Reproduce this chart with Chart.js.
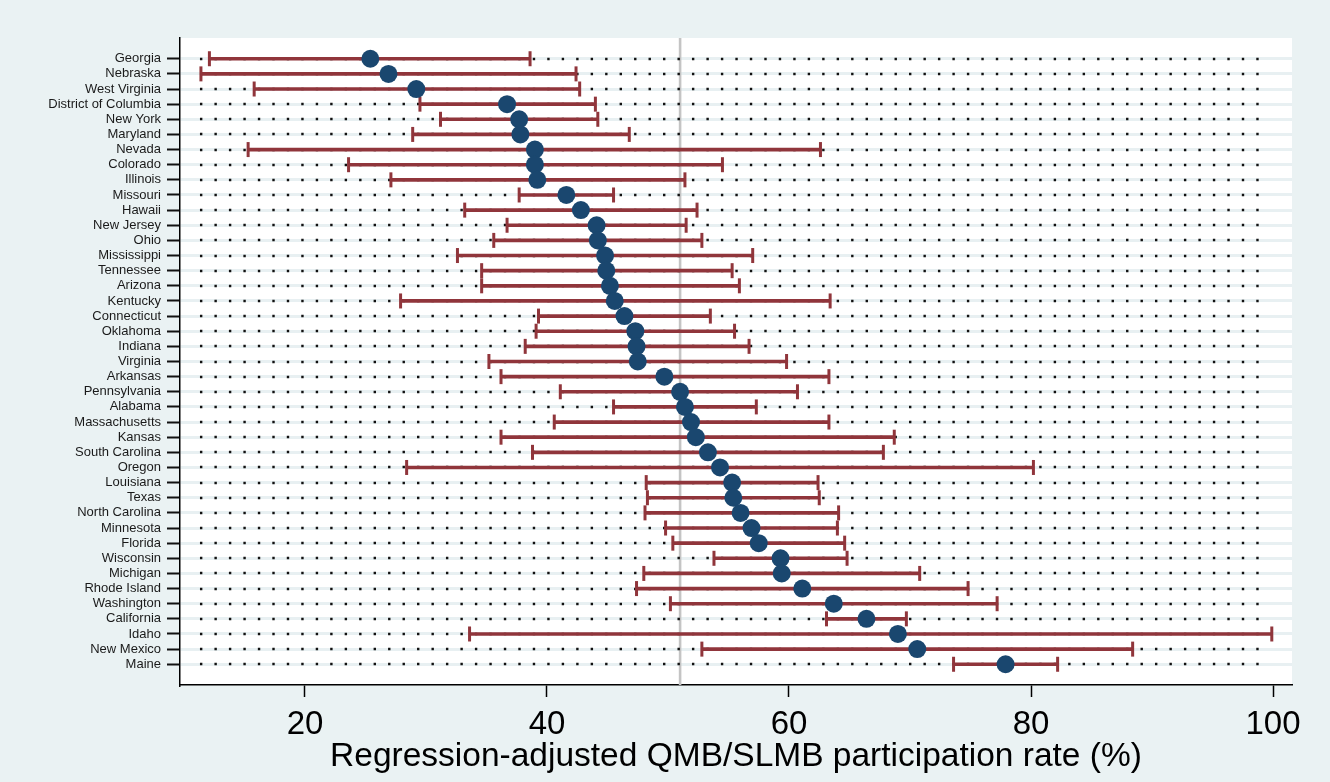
<!DOCTYPE html>
<html>
<head>
<meta charset="utf-8">
<title>QMB/SLMB participation by state</title>
<script src="https://cdn.jsdelivr.net/npm/chart.js@4.4.0/dist/chart.umd.min.js"></script>
<style>
    html, body { margin: 0; padding: 0; background: #eaf2f3; }
    canvas { display: block; }
</style>
</head>
<body>
<canvas id="rateChart" width="1330" height="782"></canvas>
<script>
const states = [
    "Georgia", "Nebraska", "West Virginia", "District of Columbia", "New York",
    "Maryland", "Nevada", "Colorado", "Illinois", "Missouri", "Hawaii",
    "New Jersey", "Ohio", "Mississippi", "Tennessee", "Arizona", "Kentucky",
    "Connecticut", "Oklahoma", "Indiana", "Virginia", "Arkansas", "Pennsylvania",
    "Alabama", "Massachusetts", "Kansas", "South Carolina", "Oregon", "Louisiana",
    "Texas", "North Carolina", "Minnesota", "Florida", "Wisconsin", "Michigan",
    "Rhode Island", "Washington", "California", "Idaho", "New Mexico", "Maine"
];
const participationRate = [
    25.4, 26.9, 29.2, 36.7, 37.7, 37.8, 39.0, 39.0, 39.2, 41.6, 42.8,
    44.1, 44.2, 44.8, 44.9, 45.2, 45.6, 46.4, 47.3, 47.4, 47.5, 49.7, 51.0,
    51.4, 51.9, 52.3, 53.3, 54.3, 55.3, 55.4, 56.0, 56.9, 57.5, 59.3, 59.4,
    61.1, 63.7, 66.4, 69.0, 70.6, 77.9
];
const lowerBound = [
    12.1, 11.4, 15.8, 29.5, 31.2, 28.9, 15.3, 23.6, 27.1, 37.7, 33.2,
    36.7, 35.6, 32.6, 34.6, 34.6, 27.9, 39.3, 39.1, 38.2, 35.2, 36.2, 41.1,
    45.5, 40.6, 36.2, 38.8, 28.4, 48.2, 48.3, 48.1, 49.8, 50.4, 53.8, 48.0,
    47.4, 50.2, 63.1, 33.6, 52.8, 73.6
];
const upperBound = [
    38.6, 42.4, 42.7, 44.0, 44.2, 46.8, 62.6, 54.5, 51.4, 45.5, 52.4,
    51.5, 52.8, 57.0, 55.3, 55.9, 63.4, 53.5, 55.5, 56.7, 59.8, 63.3, 60.7,
    57.3, 63.3, 68.7, 67.8, 80.2, 62.4, 62.5, 64.1, 64.0, 64.6, 64.8, 70.8,
    74.8, 77.2, 69.7, 99.9, 88.4, 82.2
];
const xTicks = [20, 40, 60, 80, 100];
const referenceRate = 51;

const navy = "#1a476f";
const maroon = "#90353b";
const fontFamily = "'Liberation Sans', Arial, Helvetica, sans-serif";

// white plot region on the bluish page
const plotBackground = {
    id: "plotBackground",
    beforeDraw(chart) {
        const { ctx, chartArea: a } = chart;
        ctx.save();
        ctx.fillStyle = "#ffffff";
        ctx.fillRect(a.left, a.top, a.right - a.left, a.bottom - a.top);
        ctx.restore();
    }
};

// dotted row guides, drawn just before the interval bars
const rowDots = {
    id: "rowDots",
    beforeDatasetDraw(chart, args, opts) {
        if (args.index !== 1) return;
        const { ctx, scales: { x, y } } = chart;
        const x0 = x.getPixelForValue(opts.from);
        const x1 = x.getPixelForValue(opts.to);
        ctx.save();
        ctx.strokeStyle = opts.color;
        ctx.lineWidth = opts.width;
        ctx.setLineDash(opts.dash);
        states.forEach((s, i) => {
            const py = Math.round(y.getPixelForValue(i));
            ctx.beginPath();
            ctx.moveTo(x0, py);
            ctx.lineTo(x1, py);
            ctx.stroke();
        });
        ctx.restore();
    }
};

const rows = states.map((s, i) => i);

new Chart(document.getElementById("rateChart"), {
    type: "scatter",
    data: {
        datasets: [
            {
                type: "line",
                data: [{ x: referenceRate, y: -1.37 }, { x: referenceRate, y: 41.37 }],
                borderColor: "#c4c4c4",
                borderWidth: 2.6,
                pointRadius: 0,
                order: 5
            },
            {
                type: "bar",
                indexAxis: "y",
                data: rows.map(i => ({ y: i, x: [lowerBound[i], upperBound[i]] })),
                backgroundColor: maroon,
                barThickness: 3,
                order: 4
            },
            {
                data: rows.map(i => ({ x: lowerBound[i], y: i })),
                pointStyle: "line",
                rotation: 90,
                pointRadius: 7.5,
                borderColor: maroon,
                borderWidth: 3,
                order: 3
            },
            {
                data: rows.map(i => ({ x: upperBound[i], y: i })),
                pointStyle: "line",
                rotation: 90,
                pointRadius: 7.5,
                borderColor: maroon,
                borderWidth: 3,
                order: 3
            },
            {
                data: rows.map(i => ({ x: participationRate[i], y: i })),
                pointStyle: "circle",
                pointRadius: 9,
                backgroundColor: navy,
                borderWidth: 0,
                order: 1
            }
        ]
    },
    options: {
        responsive: false,
        devicePixelRatio: 1,
        animation: false,
        layout: { padding: { left: 0, right: 38, top: 38, bottom: 0 } },
        plugins: {
            legend: { display: false },
            tooltip: { enabled: false },
            rowDots: { from: 11.32, to: 98.84, color: "#111111", width: 2.4, dash: [2.4, 12.07] }
        },
        scales: {
            x: {
                type: "linear",
                position: "bottom",
                min: 9.67,
                max: 101.57,
                offset: false,
                afterBuildTicks: scale => { scale.ticks = xTicks.map(v => ({ value: v })); },
                afterFit: scale => { scale.height = 97; },
                grid: {
                    offset: false,
                    drawOnChartArea: false,
                    drawTicks: true,
                    tickLength: 12,
                    tickColor: "#000000",
                    tickWidth: 1.5
                },
                border: { display: true, color: "#000000", width: 1.5 },
                ticks: {
                    color: "#000000",
                    padding: 8,
                    maxRotation: 0,
                    font: { family: fontFamily, size: 33 }
                },
                title: {
                    display: true,
                    text: "Regression-adjusted QMB/SLMB participation rate (%)",
                    color: "#000000",
                    padding: { top: 0, bottom: 5 },
                    font: { family: fontFamily, size: 33.5 }
                }
            },
            y: {
                type: "linear",
                position: "left",
                reverse: true,
                min: -1.37,
                max: 41.37,
                offset: false,
                afterBuildTicks: scale => { scale.ticks = rows.map(i => ({ value: i })); },
                afterFit: scale => { scale.width = 180; },
                grid: {
                    offset: false,
                    color: "#e8f0f2",
                    lineWidth: 3,
                    drawTicks: true,
                    tickLength: 13,
                    tickColor: "#111111",
                    tickWidth: 2
                },
                border: { display: true, color: "#000000", width: 1.5 },
                ticks: {
                    color: "#1a1a1a",
                    padding: 6,
                    autoSkip: false,
                    font: { family: fontFamily, size: 13 },
                    callback: value => states[value]
                }
            }
        }
    },
    plugins: [plotBackground, rowDots]
});
</script>
</body>
</html>
